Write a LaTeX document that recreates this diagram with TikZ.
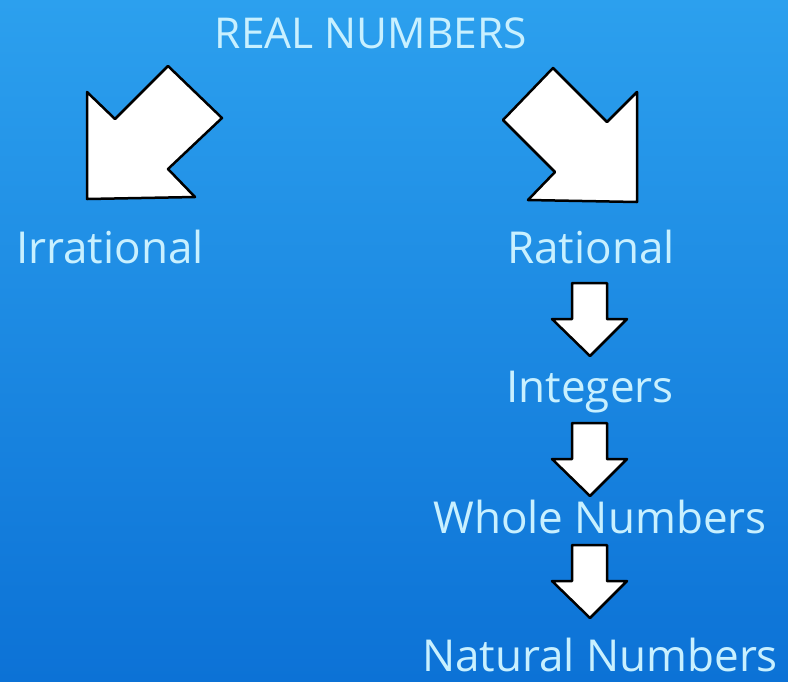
\documentclass[tikz,border=0pt]{standalone}
\usepackage{fontspec}
\setmainfont{Open Sans}
\usetikzlibrary{positioning}
\definecolor{bgtop}{RGB}{44,160,238}
\definecolor{bgbot}{RGB}{12,114,214}
\definecolor{labelcol}{RGB}{200,240,255}
\tikzset{
	lbl/.style={text=labelcol, font=\fontsize{44}{48}\selectfont, anchor=base, inner sep=0pt},
	blockarrow/.style={fill=white, draw=black, line width=2.5pt, line join=round},
}
\begin{document}
\begin{tikzpicture}[x=1pt, y=-1pt]
	\shade[top color=bgtop, bottom color=bgbot] (0,0) rectangle (788,681);
	\useasboundingbox (0,0) rectangle (788,681);
	
	\node[lbl, font=\fontsize{42.5}{46}\selectfont] (real) at (371,48){REAL NUMBERS};
	\node[lbl] (irr) at (110,263){Irrational};
	\node[lbl] (rat) at (591,263){Rational};
	\node[lbl] (int) at (590,402){Integers};
	\node[lbl] (whole) at (600,533){Whole Numbers};
	\node[lbl] (nat) at (600,671){Natural Numbers};
	
	% big arrows
	\draw[blockarrow] (87,92) -- (115,119) -- (168,66) -- (222,118) -- (168,169) -- (195,197) -- (87,199) -- cycle;
	\draw[blockarrow] (503,120) -- (553,68) -- (607,122) -- (637,92) -- (637,202) -- (528,200) -- (555,172) -- cycle;
	
	% small arrows
	\foreach \t in {283,423,545}
		\draw[blockarrow] (572,\t) -- (607,\t) -- (607,\t+36) -- (627,\t+36) -- (590,\t+73) -- (552,\t+36) -- (572,\t+36) -- cycle;
\end{tikzpicture}
\end{document}
